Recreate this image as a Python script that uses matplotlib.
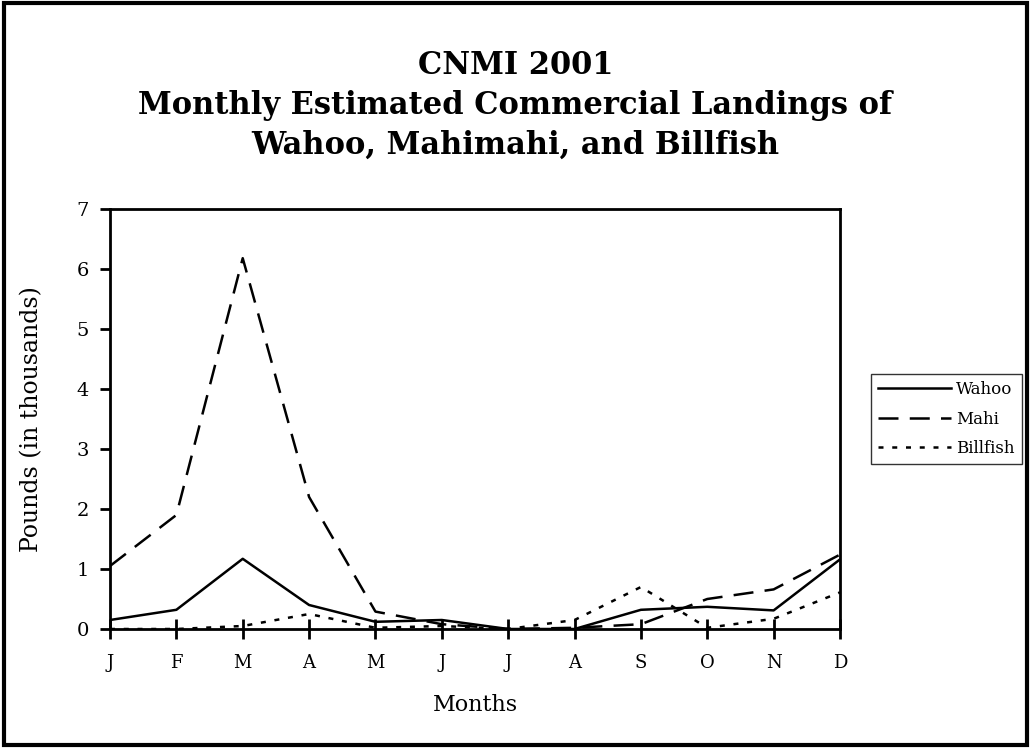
import matplotlib
matplotlib.use("Agg")
import matplotlib.pyplot as plt
from matplotlib.patches import Rectangle

months = ["J", "F", "M", "A", "M", "J", "J", "A", "S", "O", "N", "D"]
wahoo = [0.15, 0.32, 1.17, 0.40, 0.12, 0.15, 0.0, 0.0, 0.32, 0.37, 0.31, 1.16]
mahi = [1.05, 1.90, 6.18, 2.20, 0.29, 0.08, 0.0, 0.02, 0.08, 0.50, 0.66, 1.24]
billfish = [0.0, 0.0, 0.05, 0.25, 0.02, 0.05, 0.0, 0.15, 0.70, 0.02, 0.17, 0.61]

plt.rcParams["font.family"] = ["DejaVu Serif"]

fig = plt.figure(figsize=(10.31, 7.48), dpi=100)
ax = fig.add_axes([110 / 1031, 1 - 629 / 748, 730 / 1031, 420 / 748])

x = list(range(len(months)))
ax.plot(x, wahoo, color="black", lw=1.8, ls="-", label="Wahoo")
ax.plot(x, mahi, color="black", lw=1.8, ls=(0, (8, 4.5)), label="Mahi")
ax.plot(x, billfish, color="black", lw=1.8, ls=(0, (2, 3.5)), label="Billfish")

ax.set_xlim(0, 11)
ax.set_ylim(0, 7)
ax.set_xticks(x)
ax.set_xticklabels(months, fontsize=13)
ax.set_yticks(range(8))
ax.tick_params(axis="y", direction="out", length=7, width=2, labelsize=14, pad=8)
ax.tick_params(axis="x", direction="inout", length=14, width=2, pad=11)
for s in ax.spines.values():
    s.set_linewidth(2)

ax.set_ylabel("Pounds (in thousands)", fontsize=17, labelpad=24)
ax.set_xlabel("Months", fontsize=16, labelpad=16)

fig.text(0.5, 0.933, "CNMI 2001\nMonthly Estimated Commercial Landings of\nWahoo, Mahimahi, and Billfish",
         ha="center", va="top", fontsize=22, fontweight="bold", linespacing=1.36)

leg = ax.legend(loc="center left", bbox_to_anchor=(1.043, 0.5), frameon=True, fancybox=False,
                fontsize=12, handlelength=4.4, handletextpad=0.3, borderpad=0.4,
                labelspacing=0.75, borderaxespad=0)
leg.get_frame().set_edgecolor("black")
leg.get_frame().set_linewidth(1)

fig.patches.append(Rectangle((0.004, 0.004), 0.992, 0.992, transform=fig.transFigure,
                             fill=False, edgecolor="black", lw=3))

fig.savefig("out.png", dpi=100)
